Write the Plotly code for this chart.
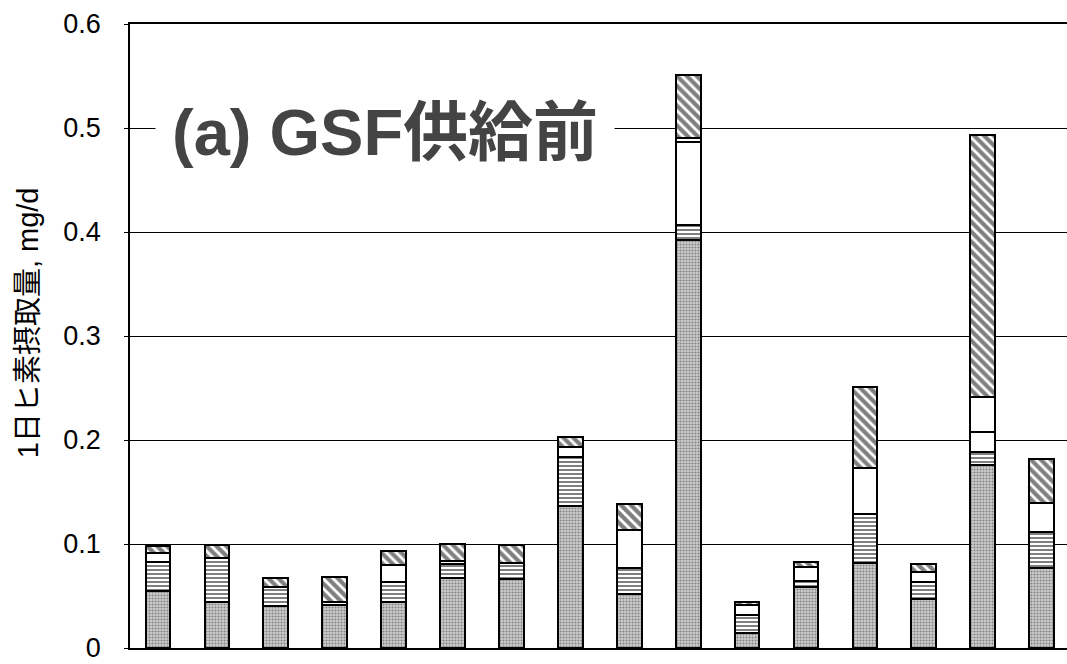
import plotly.graph_objects as go

categories = [str(i) for i in range(1, 17)]
stipple = [0.055, 0.044, 0.040, 0.041, 0.044, 0.067, 0.066, 0.137, 0.052, 0.392, 0.014, 0.059, 0.082, 0.047, 0.176, 0.077]
lines   = [0.028, 0.043, 0.019, 0.003, 0.019, 0.014, 0.016, 0.047, 0.025, 0.015, 0.018, 0.005, 0.047, 0.016, 0.012, 0.035]
white_a = [0.008, 0.000, 0.000, 0.000, 0.017, 0.003, 0.000, 0.009, 0.036, 0.080, 0.009, 0.014, 0.044, 0.010, 0.020, 0.027]
white_b = [0.000, 0.000, 0.000, 0.000, 0.000, 0.000, 0.000, 0.000, 0.000, 0.003, 0.000, 0.000, 0.000, 0.000, 0.033, 0.000]
hatched = [0.007, 0.012, 0.008, 0.024, 0.013, 0.016, 0.017, 0.010, 0.025, 0.061, 0.003, 0.005, 0.078, 0.008, 0.252, 0.043]
y_ticks = [0, 0.1, 0.2, 0.3, 0.4, 0.5, 0.6]
y_tick_labels = ["0", "0.1", "0.2", "0.3", "0.4", "0.5", "0.6"]

FONT = "Liberation Sans, Arial, Noto Sans CJK JP, sans-serif"

series = [
    ("系列1", stipple, dict(shape=".", fgcolor="#3a3a3a", bgcolor="#cdcdcd", size=3, solidity=0.4)),
    ("系列2", lines, dict(shape="-", fgcolor="#000000", bgcolor="#ffffff", size=4, solidity=0.5)),
    ("系列3", white_a, dict(shape="", bgcolor="#ffffff")),
    ("系列4", white_b, dict(shape="", bgcolor="#ffffff")),
    ("系列5", hatched, dict(shape="\\", fgcolor="#000000", bgcolor="#ffffff", size=7, solidity=0.6)),
]

fig = go.Figure()
for name, vals, pat in series:
    fig.add_trace(go.Bar(
        x=list(range(len(categories))), y=vals, name=name, width=0.42,
        marker=dict(color="#ffffff", pattern=pat, line=dict(color="#000000", width=2)),
        showlegend=False,
    ))

fig.update_layout(
    barmode="stack",
    width=1067, height=664,
    margin=dict(l=130, r=0, t=24, b=16),
    paper_bgcolor="white", plot_bgcolor="white",
    font=dict(family=FONT, color="#000000"),
    xaxis=dict(range=[-0.475, 15.43], showticklabels=False, ticks="",
               showgrid=False, showline=True, mirror=True, linecolor="#000000", linewidth=1.5,
               zeroline=False),
    yaxis=dict(range=[0, 0.6], tickvals=y_ticks, ticktext=y_tick_labels,
               tickfont=dict(size=27, family=FONT, color="#000000"),
               ticks="outside", ticklen=4, tickcolor="#000000", ticklabelstandoff=18,
               showgrid=True, gridcolor="#000000", gridwidth=1,
               showline=True, linecolor="#000000", linewidth=1.5, zeroline=False),
    annotations=[
        dict(text="<b>(a) GSF供給前</b>", xref="paper", yref="paper",
             x=0.0267, y=(0.5 / 0.6) - 0.008, xanchor="left", yanchor="middle",
             showarrow=False, bgcolor="#ffffff", borderpad=16,
             font=dict(size=65, family=FONT, color="#444444")),
        dict(text="1日ヒ素摂取量, mg/d", xref="paper", yref="paper",
             x=-0.1089, y=0.522, xanchor="center", yanchor="middle", textangle=-90,
             showarrow=False, font=dict(size=29, family=FONT, color="#000000")),
    ],
)

fig.write_html("out.html")
